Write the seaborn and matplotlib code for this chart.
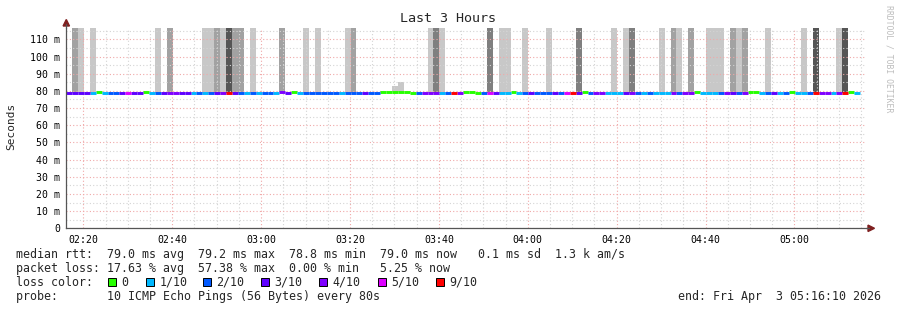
import numpy as np
import pandas as pd
import matplotlib
matplotlib.use("Agg")
import matplotlib.pyplot as plt
from matplotlib.patches import Rectangle, Polygon
from matplotlib.lines import Line2D
import seaborn as sns

# ---------------- data ----------------
# x axis: minutes after 02:16:10 (start of the 3 hour window)
tick_labels = ["02:20", "02:40", "03:00", "03:20", "03:40", "04:00", "04:20", "04:40", "05:00"]
tick_minutes = [3.83, 23.83, 43.83, 63.83, 83.83, 103.83, 123.83, 143.83, 163.83]
y_tick_values = [0, 10, 20, 30, 40, 50, 60, 70, 80, 90, 100, 110]
y_tick_labels = ["0", "10 m", "20 m", "30 m", "40 m", "50 m", "60 m", "70 m",
                 "80 m", "90 m", "100 m", "110 m"]

step_minutes = 80 / 60.0          # one probe every 80 s
first_step_start = -0.053         # start of first (partial) step in minutes

# packet loss per step (tenths of 10 pings)
loss_tenths = [3, 3, 3, 3, 1, 0, 1, 2, 2, 3, 5, 3, 3, 0, 1, 2, 3, 4, 4, 3,
               3, 1, 2, 1, 2, 3, 4, 9, 3, 2, 1, 2, 1, 2, 2, 1, 4, 3, 0, 1,
               2, 2, 2, 2, 2, 2, 1, 2, 2, 2, 3, 2, 2, 0, 0, 0, 0, 0, 0, 2,
               4, 4, 4, 1, 2, 9, 4, 0, 0, 0, 2, 5, 3, 1, 1, 0, 1, 2, 3, 2,
               2, 2, 3, 2, 5, 9, 3, 0, 2, 4, 4, 1, 1, 1, 3, 4, 2, 1, 2, 1,
               1, 1, 4, 2, 4, 4, 0, 1, 1, 1, 2, 4, 3, 2, 4, 0, 0, 1, 2, 3,
               1, 2, 0, 1, 1, 2, 9, 4, 4, 1, 4, 9, 0, 1]

# median rtt per step (ms)
median_ms = [78.8, 78.8, 78.8, 78.8, 79.0, 79.1, 79.0, 79.0, 79.0, 78.9,
             79.0, 78.9, 78.9, 79.1, 79.0, 79.0, 78.9, 79.0, 79.0, 78.9,
             78.9, 79.0, 79.0, 79.0, 79.0, 78.9, 79.0, 79.0, 78.9, 79.0,
             79.0, 79.0, 79.0, 79.0, 79.0, 79.0, 79.1, 79.0, 79.1, 79.0,
             79.0, 79.0, 79.0, 79.0, 79.0, 79.0, 79.0, 79.0, 79.0, 79.0,
             78.9, 79.0, 79.0, 79.1, 79.1, 79.1, 79.1, 79.1, 79.0, 79.0,
             79.0, 79.0, 79.0, 79.0, 79.0, 78.9, 79.0, 79.1, 79.1, 79.0,
             79.0, 79.0, 78.9, 79.0, 79.0, 79.1, 79.0, 79.0, 78.9, 79.0,
             79.0, 79.0, 78.9, 79.0, 79.0, 78.9, 78.9, 79.1, 79.0, 79.0,
             79.0, 79.0, 79.0, 79.0, 78.9, 79.0, 79.0, 79.0, 79.0, 79.0,
             79.0, 79.0, 79.0, 79.0, 79.0, 79.0, 79.2, 79.0, 79.0, 79.0,
             79.0, 79.0, 79.0, 79.0, 79.0, 79.1, 79.1, 79.0, 79.0, 78.9,
             79.0, 79.0, 79.1, 79.0, 79.0, 79.0, 78.9, 79.0, 79.0, 79.0,
             79.0, 78.9, 79.1, 79.0]

# smoke (spread of ping times): step index, shade, top of spread (ms)
smoke_step = [1, 2, 4, 15, 17, 23, 24, 25, 26, 27, 28, 29, 31, 36, 40, 42,
              47, 48, 55, 56, 61, 62, 63, 71, 73, 74, 77, 81, 86, 92, 94, 95,
              100, 102, 103, 105, 108, 109, 110, 112, 113, 114, 118, 124,
              126, 130, 131]
smoke_shade = ["M", "L", "L", "L", "M", "L", "L", "M", "L", "D", "M", "M",
               "L", "M", "L", "L", "L", "M", "L", "L", "L", "K", "L", "K",
               "L", "L", "L", "L", "K", "L", "L", "K", "L", "M", "L", "M",
               "L", "L", "L", "M", "L", "M", "L", "L", "D", "L", "D"]
smoke_top_ms = [125, 125, 125, 125, 125, 125, 125, 125, 125, 125, 125, 125,
                125, 125, 125, 125, 125, 125, 82.6, 85.4, 125, 125, 125, 125,
                125, 125, 125, 125, 125, 125, 125, 125, 125, 125, 125, 125,
                125, 125, 125, 125, 125, 125, 125, 125, 125, 125, 125]

loss_legend = ["0", "1/10", "2/10", "3/10", "4/10", "5/10", "9/10"]
loss_colors = ["#26ff00", "#00b8ff", "#0059ff", "#5e00ff", "#7e00ff", "#dd00ff", "#ff0000"]
shade_colors = {"L": "#c8c8c8", "M": "#a2a2a2", "K": "#7f7f7f", "D": "#555555"}

legend_rows = [
    "median rtt:  79.0 ms avg  79.2 ms max  78.8 ms min  79.0 ms now   0.1 ms sd  1.3 k am/s",
    "packet loss: 17.63 % avg  57.38 % max  0.00 % min   5.25 % now",
]
probe_text = "probe:       10 ICMP Echo Pings (56 Bytes) every 80s"
end_text = "end: Fri Apr  3 05:16:10 2026"

# ---------------- style ----------------
sns.set_theme(style="white")
plt.rcParams["font.family"] = ["DejaVu Sans Mono", "DejaVu Sans"]
MONO = ["DejaVu Sans Mono", "DejaVu Sans"]

W, H = 897, 310
fig = plt.figure(figsize=(W / 100, H / 100), dpi=100)
fig.patch.set_facecolor("white")

x0_px, x1_px = 66.3, 866.3
y0_px, ytop_px = 228.3, 28.0
ax = fig.add_axes([x0_px / W, 1 - y0_px / H, (x1_px - x0_px) / W, (y0_px - ytop_px) / H])
ax.set_facecolor("white")

# smoke bars
level_name = {0: "0", 1: "1/10", 2: "2/10", 3: "3/10", 4: "4/10", 5: "5/10", 9: "9/10"}
for s, sh, top in zip(smoke_step, smoke_shade, smoke_top_ms):
    start = first_step_start + s * step_minutes
    base = median_ms[s]
    ax.bar(start, top - base, bottom=base, width=step_minutes, align="edge",
           color=shade_colors[sh], linewidth=0, zorder=1)

# median line coloured by loss
rows = []
for k, (lv, m) in enumerate(zip(loss_tenths, median_ms)):
    t_a = first_step_start + k * step_minutes
    t_b = t_a + step_minutes
    rows.append({"t": t_a, "ms": m, "loss": level_name[lv], "seg": k})
    rows.append({"t": t_b, "ms": m, "loss": level_name[lv], "seg": k})
df = pd.DataFrame(rows)
sns.lineplot(data=df, x="t", y="ms", hue="loss", units="seg", estimator=None,
             palette=dict(zip(loss_legend, loss_colors)), hue_order=loss_legend,
             linewidth=2.1, legend=False, ax=ax, solid_capstyle="butt", zorder=3)

ax.set_xlim(0, 180)
ax.set_ylim(0, 116.6)
ax.set_xlabel("")
ax.set_ylabel("")

# ticks & grid
ax.set_xticks(tick_minutes)
ax.set_xticklabels(tick_labels, fontsize=7.1, family=MONO)
ax.set_xticks([tick_minutes[0] + 5 * i for i in range(36) if tick_minutes[0] + 5 * i < 180],
              minor=True)
ax.set_yticks(y_tick_values)
ax.set_yticklabels(y_tick_labels, fontsize=7.1, family=MONO)
ax.set_yticks([5 + 10 * i for i in range(12)], minor=True)

ax.set_axisbelow(False)
ax.grid(which="major", color="#f0a8a8", linestyle=(0, (1, 2)), linewidth=0.8, zorder=2)
ax.grid(which="minor", color="#d4d4d4", linestyle=(0, (1, 2)), linewidth=0.8, zorder=2)
for gl in ax.get_xgridlines() + ax.get_ygridlines():
    gl.set_zorder(2)

ax.tick_params(axis="x", which="major", length=3, width=0.7, color="#e08080",
               direction="out", pad=2.0, labelcolor="black")
ax.tick_params(axis="y", which="major", length=3, width=0.7, color="#808080",
               direction="out", pad=1.6, labelcolor="black")
ax.tick_params(which="minor", length=2, width=0.6, color="#b0b0b0", direction="out")

for side in ["top", "right"]:
    ax.spines[side].set_visible(False)
for side in ["left", "bottom"]:
    ax.spines[side].set_color("#555555")
    ax.spines[side].set_linewidth(0.9)
    ax.spines[side].set_zorder(4)

# axis extensions and arrows (figure pixels)
def fx(px):
    return px / W

def fy(py):
    return 1 - py / H

fig.add_artist(Line2D([fx(x0_px), fx(x0_px)], [fy(ytop_px), fy(24)], color="#555555", lw=0.9))
fig.add_artist(Line2D([fx(x1_px), fx(869)], [fy(y0_px), fy(y0_px)], color="#555555", lw=0.9))
fig.add_artist(Polygon([(fx(x0_px - 3.2), fy(26)), (fx(x0_px + 3.2), fy(26)), (fx(x0_px), fy(19.5))],
                       closed=True, color="#7f2020", transform=fig.transFigure))
fig.add_artist(Polygon([(fx(868), fy(y0_px - 3.2)), (fx(868), fy(y0_px + 3.2)), (fx(874.5), fy(y0_px))],
                       closed=True, color="#7f2020", transform=fig.transFigure))

# title, y label, watermark
fig.text(fx(447.5), fy(19), "Last 3 Hours", ha="center", va="center", fontsize=9.6, family=MONO)
fig.text(fx(11), fy(126.5), "Seconds", rotation=90, ha="center", va="center", fontsize=8.0, family=MONO)
fig.text(fx(888.5), fy(59), "RRDTOOL / TOBI OETIKER", rotation=270, ha="center", va="center",
         fontsize=5.9, family=MONO, color="#bdbdbd")

# legend area
fs = 8.4
fig.text(fx(16), fy(254.3), legend_rows[0], ha="left", va="center", fontsize=fs, family=MONO)
fig.text(fx(16), fy(268.3), legend_rows[1], ha="left", va="center", fontsize=fs, family=MONO)
fig.text(fx(16), fy(282.3), "loss color:", ha="left", va="center", fontsize=fs, family=MONO)
box_x = [108, 145.7, 202.7, 261, 319, 377.7, 436]
for bx, lab, col in zip(box_x, loss_legend, loss_colors):
    fig.add_artist(Rectangle((fx(bx), fy(286.3)), 8 / W, 8 / H, transform=fig.transFigure,
                             facecolor=col, edgecolor="black", linewidth=0.7))
    fig.text(fx(bx + 13.5), fy(282.3), lab, ha="left", va="center", fontsize=fs, family=MONO)
fig.text(fx(16), fy(296.3), probe_text, ha="left", va="center", fontsize=fs, family=MONO)
fig.text(fx(881), fy(296.3), end_text, ha="right", va="center", fontsize=fs, family=MONO)

fig.savefig("out.png", dpi=100, facecolor="white")
